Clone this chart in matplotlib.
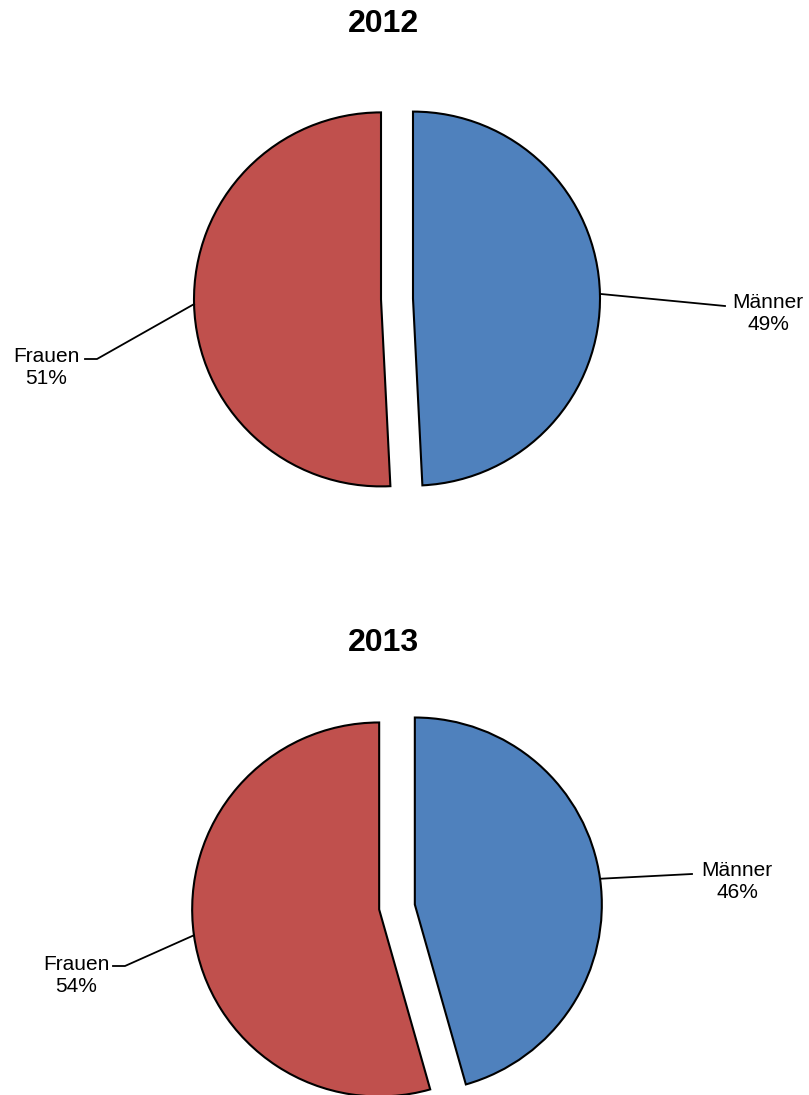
import numpy as np
import matplotlib
matplotlib.use("Agg")
import matplotlib.pyplot as plt

years = ["2012", "2013"]
categories = ["Männer", "Frauen"]
shares_2012 = [49.2, 50.8]
shares_2013 = [45.6, 54.4]
colors = ["#4F81BD", "#C0504D"]

W, H = 809, 1095
fig = plt.figure(figsize=(W / 100, H / 100), dpi=100)
ax = fig.add_axes([0, 0, 1, 1])
ax.set_xlim(0, W)
ax.set_ylim(0, H)
ax.axis("off")

FONT = "Liberation Sans"

def Y(py):
    return H - py

# layout per chart: center, radius, explode offset (px), title pos, label anchors (pixel coords, y from top)
layouts = [
    dict(center=(397, 299), r=187, explode=16, title=(383, 24),
         labels={"Männer": dict(text=(768, 314), elbow=(725, 306), knee=None),
                 "Frauen": dict(text=(46, 368), elbow=(97, 359), knee=(85, 359))}),
    dict(center=(397, 907), r=187, explode=18, title=(383, 643),
         labels={"Männer": dict(text=(737, 882), elbow=(692, 874), knee=None),
                 "Frauen": dict(text=(76, 975), elbow=(125, 966), knee=(113, 966))}),
]

for year, shares, lay in zip(years, [shares_2012, shares_2013], layouts):
    cx, cy = lay["center"]
    wedges, _ = ax.pie(shares, colors=colors, startangle=90, counterclock=False,
                       explode=[lay["explode"]] * len(shares), radius=lay["r"],
                       center=(cx, Y(cy)),
                       wedgeprops=dict(edgecolor="black", linewidth=1.5))
    ax.set_xlim(0, W)
    ax.set_ylim(0, H)
    ax.set_aspect("auto")
    tx, ty = lay["title"]
    ax.text(tx, Y(ty), year, ha="center", va="center", fontsize=23,
            fontweight="bold", family=FONT)
    for w, cat, val in zip(wedges, categories, shares):
        mid = np.deg2rad((w.theta1 + w.theta2) / 2)
        wx, wy = w.center
        sx, sy = wx + w.r * np.cos(mid), wy + w.r * np.sin(mid)
        L = lay["labels"][cat]
        ex, ey = L["elbow"]
        xs, ys = [sx, ex], [sy, Y(ey)]
        if L["knee"] is not None:
            kx, ky = L["knee"]
            xs.append(kx); ys.append(Y(ky))
        ax.plot(xs, ys, color="black", linewidth=1.3)
        lx, ly = L["text"]
        ax.text(lx, Y(ly), f"{cat}\n{val:.0f}%", ha="center", va="center",
                fontsize=15, family=FONT, linespacing=1.2)

fig.savefig("out.png", dpi=100)
